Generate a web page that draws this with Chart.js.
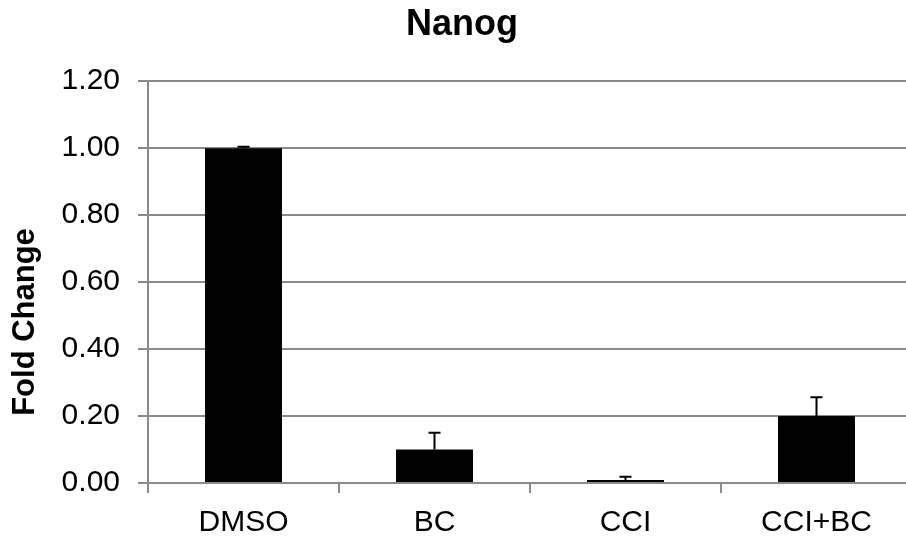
<!DOCTYPE html>
<html>
<head>
<meta charset="utf-8">
<script src="https://cdn.jsdelivr.net/npm/chart.js@4"></script>
<style>
  html, body { margin: 0; padding: 0; background: #fff; overflow: hidden; }
  #wrap { width: 906px; height: 545px; overflow: hidden; }
  #wrap div { width: 924px; height: 545px; }
</style>
</head>
<body>
<div id="wrap"><div><canvas id="chart"></canvas></div></div>
<script>
'use strict';

const categories = ['DMSO', 'BC', 'CCI', 'CCI+BC'];
const foldChange = [1.00, 0.10, 0.009, 0.20];
const errorUp = [0.004, 0.05, 0.01, 0.056];
const yTicks = [0, 0.2, 0.4, 0.6, 0.8, 1.0, 1.2];

const FONT = '"Liberation Sans", Arial, sans-serif';
const GRID = '#8a8a8a';

// error bars (upper only), drawn from the data through the scales
const errorBars = {
  id: 'errorBars',
  afterDatasetsDraw(chart) {
    const { ctx, scales: { x, y } } = chart;
    ctx.save();
    ctx.strokeStyle = '#000';
    ctx.lineWidth = 2;
    foldChange.forEach((v, i) => {
      const px = x.getPixelForValue(i);
      const y0 = y.getPixelForValue(v);
      const y1 = y.getPixelForValue(v + errorUp[i]);
      ctx.beginPath();
      ctx.moveTo(px, y0);
      ctx.lineTo(px, y1);
      ctx.moveTo(px - 6, y1);
      ctx.lineTo(px + 6, y1);
      ctx.stroke();
    });
    ctx.restore();
  }
};

// y axis title, placed like the original (a bit below the axis centre)
const yTitle = {
  id: 'yTitle',
  afterDraw(chart) {
    const { ctx } = chart;
    ctx.save();
    ctx.translate(34, 322);
    ctx.rotate(-Math.PI / 2);
    ctx.font = 'bold 31px ' + FONT;
    ctx.fillStyle = '#000';
    ctx.textAlign = 'center';
    ctx.textBaseline = 'alphabetic';
    ctx.fillText('Fold Change', 0, 0);
    ctx.restore();
  }
};

new Chart(document.getElementById('chart'), {
  type: 'bar',
  data: {
    labels: categories,
    datasets: [{
      label: 'Nanog',
      data: foldChange,
      backgroundColor: '#000',
      borderWidth: 0,
      barPercentage: 0.403,
      categoryPercentage: 1
    }]
  },
  options: {
    responsive: true,
    maintainAspectRatio: false,
    animation: false,
    layout: { padding: { left: 12, right: 12, top: 0, bottom: 0 } },
    plugins: {
      legend: { display: false },
      tooltip: { enabled: false },
      title: {
        display: true,
        text: 'Nanog',
        color: '#000',
        font: { family: FONT, size: 36, weight: 'bold', lineHeight: 1.2 },
        padding: { top: 3, bottom: 35 }
      }
    },
    scales: {
      x: {
        grid: { drawOnChartArea: false, drawTicks: true, tickLength: 10, color: GRID, lineWidth: 2 },
        border: { color: GRID, width: 2 },
        ticks: { color: '#000', font: { family: FONT, size: 30 }, padding: 12, maxRotation: 0 },
        afterFit(scale) { scale.height = 62; }
      },
      y: {
        min: 0,
        max: 1.2,
        afterBuildTicks(scale) { scale.ticks = yTicks.map(v => ({ value: v })); },
        grid: { color: GRID, lineWidth: 2, tickLength: 10 },
        border: { color: GRID, width: 2 },
        ticks: {
          color: '#000',
          font: { family: FONT, size: 30 },
          padding: 18,
          callback: v => Number(v).toFixed(2)
        },
        afterFit(scale) { scale.width = 136; }
      }
    }
  },
  plugins: [errorBars, yTitle]
});
</script>
</body>
</html>
